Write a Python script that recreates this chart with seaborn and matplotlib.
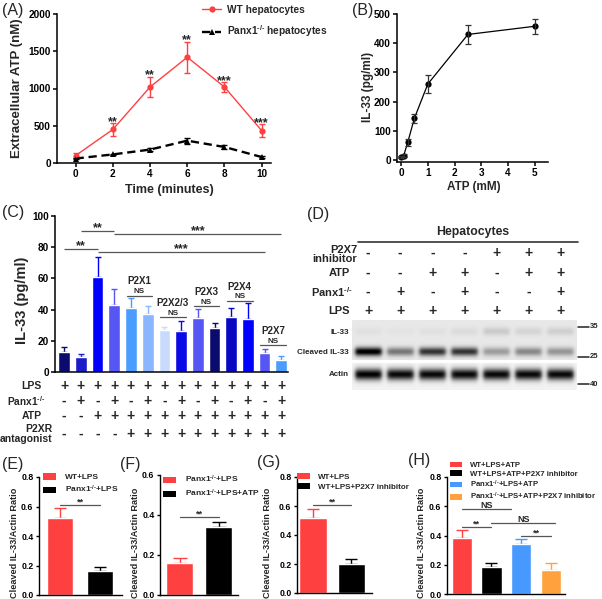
import numpy as np
import pandas as pd
import matplotlib
matplotlib.use("Agg")
import matplotlib.pyplot as plt
import matplotlib.transforms as mtrans
from matplotlib.patches import Patch
import seaborn as sns

# ---------------- data ----------------
KO = r"Panx1$^{\text{-/-}}$"
# (A) extracellular ATP
time_min = [0, 2, 4, 6, 8, 10]
wt_atp = [100, 450, 1020, 1420, 1020, 435]
wt_atp_err = [30, 90, 140, 210, 70, 90]
ko_atp = [60, 115, 180, 300, 215, 80]
ko_atp_err = [10, 12, 15, 40, 30, 10]
atp_stars = ["", "**", "**", "**", "***", "***"]
a_series = ["WT hepatocytes", KO + " hepatocytes"]

# (B) dose response
atp_conc = [0, 0.1, 0.25, 0.5, 1, 2.5, 5]
il33_dose = [10, 15, 60, 143, 260, 430, 458]
il33_dose_err = [3, 4, 13, 15, 30, 33, 25]

# (C) IL-33 with P2XR antagonists
c_vals = [13, 9.5, 61, 43, 41, 37, 27, 26.5, 34.5, 28, 35, 34, 12.5, 8]
c_err = [3, 2, 13, 10, 6.5, 5.5, 2, 6.5, 6, 3.5, 6, 10, 2.5, 2]
c_colors = ["#0b0b6e", "#1c1cc8", "#0000ff", "#5656f4", "#4a9dff", "#8ab5ff", "#c8dbff",
            "#0a0ae6", "#5656f4", "#0b0b6e", "#0808c0", "#0000ff", "#5656f4", "#4a9dff"]
c_lps = ["+"] * 14
c_panx = ["-", "+"] * 7
c_atp = ["-", "-"] + ["+"] * 12
c_antag = ["-"] * 4 + ["+"] * 10
c_groups = ["P2X1", "P2X2/3", "P2X3", "P2X4", "P2X7"]
c_group_first = [4, 6, 8, 10, 12]
c_group_line = [49, 35, 42, 45.7, 17]
c_sig_text = ["**", "**", "***", "***"]
c_sig_from = [0, 1, 3, 2]
c_sig_to = [2, 3, 13, 12]
c_sig_y = [79, 90.5, 88.5, 77]

# (D) western blot
d_inhib = ["-", "-", "-", "-", "+", "+", "+"]
d_atp = ["-", "-", "+", "+", "-", "+", "+"]
d_panx = ["-", "+", "-", "+", "-", "-", "+"]
d_lps = ["+"] * 7
d_il33_full = [0.03, 0.02, 0.03, 0.05, 0.12, 0.08, 0.10]
d_il33_cleaved = [0.95, 0.45, 0.72, 0.72, 0.30, 0.38, 0.33]
d_actin = [0.95, 0.92, 0.92, 0.92, 0.92, 0.92, 0.92]

# (E)-(H) ratios
e_labels = ["WT+LPS", KO + "+LPS"]
e_vals = [0.52, 0.165]
e_err = [0.068, 0.027]
f_labels = [KO + "+LPS", KO + "+LPS+ATP"]
f_vals = [0.158, 0.342]
f_err = [0.029, 0.025]
g_labels = ["WT+LPS", "WT+LPS+P2X7 inhibitor"]
g_vals = [0.515, 0.202]
g_err = [0.062, 0.030]
h_labels = ["WT+LPS+ATP", "WT+LPS+ATP+P2X7 inhibitor", KO + "+LPS+ATP",
            KO + "+LPS+ATP+P2X7 inhibitor"]
h_vals = [0.384, 0.186, 0.34, 0.164]
h_err = [0.052, 0.024, 0.033, 0.046]

RED = "#ff4040"
BLACK = "#000000"
BLUE = "#4799ff"
ORANGE = "#ffa23e"

# ---------------- style ----------------
sns.set_style("ticks")
plt.rcParams["font.family"] = ["Liberation Sans", "DejaVu Sans"]
plt.rcParams["font.weight"] = "bold"
plt.rcParams["axes.labelweight"] = "bold"
plt.rcParams["mathtext.fontset"] = "custom"
plt.rcParams["mathtext.rm"] = "Liberation Sans:bold"
plt.rcParams["mathtext.bf"] = "Liberation Sans:bold"
plt.rcParams["mathtext.it"] = "Liberation Sans:bold:italic"
plt.rcParams["mathtext.default"] = "regular"
plt.rcParams["axes.edgecolor"] = "black"
plt.rcParams["xtick.color"] = "black"
plt.rcParams["ytick.color"] = "black"

W, H = 602, 599
fig = plt.figure(figsize=(W / 100, H / 100), dpi=100)


def px_axes(l, t, r, b):
    ax = fig.add_axes([l / W, 1 - b / H, (r - l) / W, (b - t) / H])
    ax.set_facecolor("none")
    return ax


def fy(ypx):
    return 1 - ypx / H


def style(ax, lw=1.1, fs=7.2, tl=3):
    sns.despine(ax=ax)
    for s in ["left", "bottom"]:
        ax.spines[s].set_linewidth(lw)
    ax.tick_params(width=lw, length=tl, labelsize=fs, pad=1.5)


def place_ylabel(ax, text, xpx, ypx, fs):
    ax.set_ylabel(text, fontsize=fs)
    ax.yaxis.set_label_coords(xpx / W, fy(ypx), transform=fig.transFigure)
    ax.yaxis.label.set_va("center")


def place_xlabel(ax, text, xpx, ypx, fs):
    ax.set_xlabel(text, fontsize=fs)
    ax.xaxis.set_label_coords(xpx / W, fy(ypx), transform=fig.transFigure)
    ax.xaxis.label.set_va("center")


# ---------------- (A) ----------------
axA = px_axes(57, 14, 271, 163)
dfA = pd.DataFrame({"time": time_min * 2, "atp": wt_atp + ko_atp,
                    "group": [a_series[0]] * 6 + [a_series[1]] * 6})
sns.lineplot(data=dfA, x="time", y="atp", hue="group", style="group",
             palette=[RED, BLACK], dashes=["", (3.5, 2)], markers=["o", "^"],
             markersize=4.5, markeredgewidth=0, linewidth=1.0, ax=axA, errorbar=None)
leg = axA.get_legend()
handles = list(leg.legend_handles)
labels = [t.get_text() for t in leg.get_texts()]
axA.lines[1].set_linewidth(1.7)
for hnd, lw in zip(handles, [1.0, 1.7]):
    hnd.set_linewidth(lw)
    hnd.set_markeredgewidth(0)
axA.errorbar(time_min, wt_atp, yerr=wt_atp_err, fmt="none", ecolor=RED,
             elinewidth=1, capsize=2.5, capthick=1)
axA.errorbar(time_min, ko_atp, yerr=ko_atp_err, fmt="none", ecolor=BLACK,
             elinewidth=1, capsize=2.2, capthick=1)
for t, v, e, s in zip(time_min, wt_atp, wt_atp_err, atp_stars):
    if s:
        axA.annotate(s, (t, v + e), xytext=(0, -1.5), textcoords="offset points",
                     ha="center", va="baseline", fontsize=9)
axA.legend(handles, labels, loc="upper left", bbox_to_anchor=(202 / W, fy(5)),
           bbox_transform=fig.transFigure, frameon=False, fontsize=7.3,
           handlelength=1.9, handletextpad=0.6, labelspacing=0.85,
           borderpad=0, borderaxespad=0)
axA.set_xlim(-1, 10.5)
axA.set_ylim(0, 2000)
axA.set_xticks(range(0, 11, 2))
axA.set_yticks(range(0, 2001, 500))
style(axA)
place_ylabel(axA, "Extracellular ATP (nM)", 17, 88, 9.5)
place_xlabel(axA, "Time (minutes)", 169, 190, 9)

# ---------------- (B) ----------------
axB = px_axes(397, 14, 548, 162)
sns.lineplot(x=atp_conc, y=il33_dose, marker="o", color=BLACK, markersize=4.5,
             markeredgewidth=0, linewidth=0.9, ax=axB, errorbar=None)
axB.errorbar(atp_conc, il33_dose, yerr=il33_dose_err, fmt="none", ecolor="#333333",
             elinewidth=0.9, capsize=2.2, capthick=0.9)
axB.set_xlim(-0.15, 5.49)
axB.set_ylim(-7, 500)
axB.set_xticks(range(0, 6))
axB.set_yticks(range(0, 501, 100))
style(axB)
place_ylabel(axB, "IL-33 (pg/ml)", 368, 87, 8.5)
place_xlabel(axB, "ATP (mM)", 474, 187, 8.5)

# ---------------- (C) ----------------
axC = px_axes(55, 216, 288, 372)
c_cats = [str(i) for i in range(len(c_vals))]
sns.barplot(x=c_cats, y=c_vals, hue=c_cats, palette=c_colors, legend=False,
            saturation=1, width=0.7, ax=axC, errorbar=None)
for i, (v, e, c) in enumerate(zip(c_vals, c_err, c_colors)):
    axC.errorbar(i, v, yerr=[[0], [e]], fmt="none", ecolor=c, elinewidth=1,
                 capsize=2.3, capthick=1, zorder=0.5)
for s, a, b, y in zip(c_sig_text, c_sig_from, c_sig_to, c_sig_y):
    axC.plot([a, b], [y, y], color="#555555", lw=0.9, solid_capstyle="butt")
    axC.annotate(s, ((a + b) / 2, y), xytext=(0, 0), textcoords="offset points",
                 ha="center", va="baseline", fontsize=9)
for name, i0, y in zip(c_groups, c_group_first, c_group_line):
    axC.plot([i0 - 0.25, i0 + 1.28], [y, y], color="#555555", lw=0.9)
    axC.annotate("NS", (i0 + 0.5, y), xytext=(0, 1.6), textcoords="offset points",
                 ha="center", va="baseline", fontsize=5.8)
    axC.annotate(name, (i0 + 0.5, y), xytext=(0, 8.0), textcoords="offset points",
                 ha="center", va="baseline", fontsize=7)
axC.set_xlim(-0.55, 13.4)
axC.set_ylim(0, 100)
axC.set_yticks(range(0, 101, 20))
style(axC, fs=7.2)
axC.tick_params(axis="x", length=0, labelbottom=False)
axC.set_xlabel("")
place_ylabel(axC, "IL-33 (pg/ml)", 22, 300, 10.5)

trC = mtrans.blended_transform_factory(axC.transData, fig.transFigure)
for row, ypx in zip([c_lps, c_panx, c_atp, c_antag], [386, 401, 416, 434]):
    for i, s in enumerate(row):
        fig.text(i, fy(ypx), s, transform=trC, ha="center", va="center", fontsize=10)
fig.text(42 / W, fy(386), "LPS", ha="right", va="center", fontsize=7.5)
fig.text(45 / W, fy(401), KO, ha="right", va="center", fontsize=7.3)
fig.text(42 / W, fy(416), "ATP", ha="right", va="center", fontsize=7.5)
fig.text(52 / W, fy(434), "P2XR\nantagonist", ha="right", va="center", fontsize=7.5,
         multialignment="right", linespacing=0.95)

# ---------------- (D) ----------------
def blot(ax, bands, bg, nrows):
    xs = np.linspace(-0.5, 6.5, 226)
    ys = np.linspace(0, 1, nrows)
    img = np.full((nrows, xs.size), bg)
    for yc, sig, ints in bands:
        py = np.exp(-0.5 * ((ys - yc) / sig) ** 2)
        for i, v in enumerate(ints):
            px_ = 1 / (1 + np.exp((np.abs(xs - i) - 0.41) / 0.035))
            img -= v * np.outer(py, px_)
    ax.imshow(np.clip(img, 0, 1), cmap="gray", vmin=0, vmax=1, aspect="auto",
              extent=(-0.5, 6.5, 1, 0), interpolation="bilinear")
    ax.set_xlim(-0.5, 6.5)
    ax.set_ylim(1, 0)
    ax.set_axis_off()


axBlot1 = px_axes(352, 320, 577, 360)
blot(axBlot1, [(0.3, 0.07, d_il33_full), (0.8, 0.075, d_il33_cleaved)], 0.91, 80)
axBlot2 = px_axes(352, 363, 577, 390)
blot(axBlot2, [(0.42, 0.15, d_actin)], 0.95, 54)

trD = mtrans.blended_transform_factory(axBlot1.transData, fig.transFigure)
for row, ypx in zip([d_inhib, d_atp, d_panx, d_lps], [253, 273, 292, 311]):
    for i, s in enumerate(row):
        fig.text(i, fy(ypx), s, transform=trD, ha="center", va="center", fontsize=10)
fig.text(357 / W, fy(254.5), "P2X7\ninhibitor", ha="right", va="center", fontsize=8,
         multialignment="right", linespacing=0.9)
fig.text(350 / W, fy(273), "ATP", ha="right", va="center", fontsize=8)
fig.text(353 / W, fy(292), KO, ha="right", va="center", fontsize=8)
fig.text(350 / W, fy(311), "LPS", ha="right", va="center", fontsize=8)
fig.text(473 / W, fy(232), "Hepatocytes", ha="center", va="center", fontsize=8.8)
fig.add_artist(plt.Line2D([358 / W, 578 / W], [fy(242), fy(242)], color="#333333", lw=1.2))
fig.text(349 / W, fy(332), "IL-33", ha="right", va="center", fontsize=5.8)
fig.text(349 / W, fy(352), "Cleaved IL-33", ha="right", va="center", fontsize=5.8)
fig.text(349 / W, fy(374), "Actin", ha="right", va="center", fontsize=5.8)
for lab, ypx in zip(["35", "25", "40"], [327, 357, 384]):
    fig.add_artist(plt.Line2D([578 / W, 589 / W], [fy(ypx), fy(ypx)], color="#222222", lw=1.1))
    fig.text(590 / W, fy(ypx), lab, ha="left", va="center", fontsize=5.5)

# ---------------- (E)-(H) ----------------
def ratio_panel(box, labels, vals, errs, colors, ymax, yticks, xlim, width, capsize,
                sig, ylab_x, leg_xy, leg_fs, leg_ls):
    l, t, r, b = box
    ax = px_axes(l, t, r, b)
    cats = list(labels)
    sns.barplot(x=cats, y=vals, hue=cats, palette=colors, legend=False, saturation=1,
                width=width, ax=ax, errorbar=None)
    for i, (v, e, c) in enumerate(zip(vals, errs, colors)):
        ax.errorbar(i, v, yerr=[[0], [e]], fmt="none", ecolor=c, elinewidth=1,
                    capsize=capsize, capthick=1, zorder=0.5)
    for s, a, bb, y in sig:
        ax.plot([a, bb], [y, y], color="#555555", lw=0.9)
        ax.annotate(s, ((a + bb) / 2, y), xytext=(0, 0.5), textcoords="offset points",
                    ha="center", va="baseline", fontsize=6.5)
    ax.set_xlim(*xlim)
    ax.set_ylim(0, ymax)
    ax.set_yticks(yticks)
    ax.set_yticklabels([f"{v:.1f}" for v in yticks])
    style(ax, lw=1.0, fs=6.3, tl=2.5)
    ax.tick_params(axis="x", length=0, labelbottom=False)
    ax.set_xlabel("")
    place_ylabel(ax, "Cleaved IL-33/Actin Ratio", ylab_x, 543, 6.6)
    hs = [Patch(facecolor=c, edgecolor="none") for c in colors]
    ax.legend(hs, labels, loc="upper left", bbox_to_anchor=(leg_xy[0] / W, fy(leg_xy[1])),
              bbox_transform=fig.transFigure, frameon=False, fontsize=leg_fs,
              handlelength=1.6, handleheight=0.75, handletextpad=1.0,
              labelspacing=leg_ls, borderpad=0, borderaxespad=0)
    return ax


ratio_panel((39, 477, 122, 595), e_labels, e_vals, e_err, [RED, BLACK], 0.8,
            [0.0, 0.2, 0.4, 0.6, 0.8], (-0.525, 1.55), 0.65, 4.5,
            [("**", 0, 1, 0.61)], 15, (43, 473.5), 6, 0.3)
ratio_panel((160, 475, 238, 595), f_labels, f_vals, f_err, [RED, BLACK], 0.6,
            [0.0, 0.2, 0.4, 0.6], (-0.5, 1.5), 0.7, 5,
            [("**", 0, 1, 0.389)], 136, (163, 474), 6, 0.3)
ratio_panel((297, 477, 372, 593), g_labels, g_vals, g_err, [RED, BLACK], 0.8,
            [0.0, 0.2, 0.4, 0.6, 0.8], (-0.42, 1.55), 0.71, 4.5,
            [("**", 0, 1, 0.605)], 268, (297, 473), 5.8, 0.32)
ratio_panel((447, 477, 565, 594), h_labels, h_vals, h_err, [RED, BLACK, BLUE, ORANGE], 0.8,
            [0.0, 0.2, 0.4, 0.6, 0.8], (-0.5, 3.48), 0.69, 4,
            [("NS", 0, 1.65, 0.58), ("**", 0, 1, 0.459), ("NS", 1, 3.15, 0.487),
             ("**", 2, 3, 0.397)], 422, (450, 461.5), 5.6, 0.12)

# ---------------- panel letters ----------------
for lab, x, y in [("(A)", 2, 10), ("(B)", 352, 10), ("(C)", 2, 213), ("(D)", 307, 215),
                  ("(E)", 2, 464), ("(F)", 120, 464), ("(G)", 257, 462), ("(H)", 408, 461)]:
    fig.text(x / W, fy(y), lab, ha="left", va="center", fontsize=11.5, fontweight="normal")

fig.savefig("out.png", dpi=100)
